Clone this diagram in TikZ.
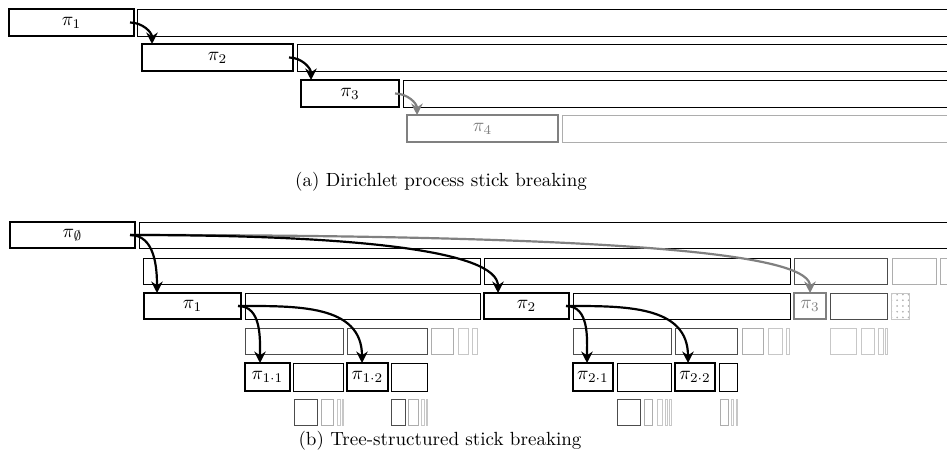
\documentclass[tikz,border=0pt]{standalone}
\usepackage{amssymb}
\usetikzlibrary{arrows.meta,patterns}
\def\un{0.525pt}
\newcommand{\mystick}[7][]{\node[stk,#1,minimum width={(#5-#3)*\un},minimum height={(#6-#4)*\un}] (#2) at ({(#3+#5)/2},{(#4+#6)/2}) {#7};}
\tikzset{
  stk/.style={draw,line width=0.45pt,inner sep=0pt,outer sep=0pt},
  pibox/.style={line width=1.1pt},
  faded/.style={draw=black!50,text=black!50},
  mid/.style={draw=black!70},
  light/.style={draw=black!32},
  lighter/.style={draw=black!22},
  arr/.style={line width=1.15pt,-{Stealth[length=6pt,width=6pt]}},
  garr/.style={arr,draw=black!50,color=black!50},
  captext/.style={inner sep=0pt,font=\normalsize},
}
\begin{document}
\begin{tikzpicture}[x=\un,y=-\un]
\clip (0,0) rectangle (947,466);
% ---------- (a) ----------
\mystick[pibox]{p1}{9}{9}{134}{36}{$\pi_1$}
\mystick{a1}{137}{9}{980}{36}{}
\mystick[pibox]{p2}{142}{44}{293}{71}{$\pi_2$}
\mystick{a2}{297}{44}{980}{71}{}
\mystick[pibox]{p3}{301}{80}{399}{107}{$\pi_3$}
\mystick{a3}{403}{80}{980}{107}{}
\mystick[pibox,faded]{p4}{407}{115}{558}{142}{$\pi_4$}
\mystick[light]{a4}{562}{115}{980}{142}{}
\node[captext] (capa) at (441,182) {(a) Dirichlet process stick breaking};
% ---------- (b) ----------
\mystick[pibox]{pe}{10}{222}{135}{248}{$\pi_{\emptyset}$}
\mystick{b0}{139}{222}{980}{248}{}
% row 2
\mystick{b2a}{143}{258}{480}{284}{}
\mystick{b2b}{484}{258}{790}{284}{}
\mystick[mid]{b2c}{794}{258}{887}{284}{}
\mystick[light]{b2d}{892}{258}{936}{284}{}
\mystick[light]{b2e}{940}{258}{980}{284}{}
% row 3
\mystick[pibox]{q1}{144}{293}{241}{319}{$\pi_1$}
\mystick{q1r}{245}{293}{480}{319}{}
\mystick[pibox]{q2}{484}{293}{569}{319}{$\pi_2$}
\mystick{q2r}{573}{293}{790}{319}{}
\mystick[pibox,faded]{q3}{794}{293}{826}{319}{$\pi_3$}
\mystick[mid]{q3r}{830}{293}{887}{319}{}
\mystick[lighter,pattern=dots,pattern color=black!30]{q3d}{891}{293}{909}{319}{}
% row 4
\mystick[mid]{c1}{245}{328}{343}{354}{}
\mystick[mid]{c2}{347}{328}{427}{354}{}
\mystick[light]{c3}{431}{328}{453}{354}{}
\mystick[lighter]{c4}{458}{328}{468}{354}{}
\mystick[lighter]{c5}{472}{328}{477}{354}{}
\mystick[mid]{d1}{573}{328}{671}{354}{}
\mystick[mid]{d2}{675}{328}{737}{354}{}
\mystick[light]{d3}{742}{328}{763}{354}{}
\mystick[lighter]{d4}{768}{328}{782}{354}{}
\mystick[lighter]{d5}{786}{328}{789}{354}{}
\mystick[lighter]{e1}{830}{328}{856}{354}{}
\mystick[lighter]{e2}{861}{328}{874}{354}{}
\mystick[lighter]{e3}{878}{328}{883}{354}{}
\mystick[lighter]{e4}{885}{328}{887}{354}{}
% row 5
\mystick[pibox]{r11}{245}{363}{290}{391}{$\pi_{1\cdot 1}$}
\mystick{r11r}{293}{363}{343}{391}{}
\mystick[pibox]{r12}{347}{363}{388}{391}{$\pi_{1\cdot 2}$}
\mystick{r12r}{391}{363}{427}{391}{}
\mystick[pibox]{r21}{573}{363}{613}{391}{$\pi_{2\cdot 1}$}
\mystick{r21r}{617}{363}{671}{391}{}
\mystick[pibox]{r22}{675}{363}{715}{391}{$\pi_{2\cdot 2}$}
\mystick{r22r}{719}{363}{737}{391}{}
% row 6
\mystick[mid]{f1}{294}{399}{317}{425}{}
\mystick[light]{f2}{321}{399}{333}{425}{}
\mystick[lighter]{f3}{337}{399}{340}{425}{}
\mystick[lighter]{f4}{342}{399}{343}{425}{}
\mystick[mid]{g1}{391}{399}{405}{425}{}
\mystick[light]{g2}{408}{399}{418}{425}{}
\mystick[lighter]{g3}{421}{399}{424}{425}{}
\mystick[lighter]{g4}{426}{399}{427}{425}{}
\mystick[mid]{h1}{617}{399}{640}{425}{}
\mystick[light]{h2}{644}{399}{652}{425}{}
\mystick[lighter]{h3}{657}{399}{662}{425}{}
\mystick[lighter]{h4}{665}{399}{667}{425}{}
\mystick[lighter]{h5}{669}{399}{671}{425}{}
\mystick[light]{i1}{720}{399}{728}{425}{}
\mystick[lighter]{i2}{731}{399}{733}{425}{}
\mystick[lighter]{i3}{736}{399}{737}{425}{}
\node[captext] (capb) at (440,441) {(b) Tree-structured stick breaking};
% ---------- arrows ----------
\draw[arr] ([xshift={-4*\un}]p1.east) to[out=0,in=90] ([xshift={10*\un}]p2.north west);
\draw[arr] ([xshift={-4*\un}]p2.east) to[out=0,in=90] ([xshift={10*\un}]p3.north west);
\draw[garr] ([xshift={-4*\un}]p3.east) to[out=0,in=90] ([xshift={10*\un}]p4.north west);
\draw[garr] ([xshift={-5*\un}]pe.east) to[out=0,in=90,out distance={540*\un},in distance={35*\un}] (q3.north);
\draw[arr] ([xshift={-5*\un}]pe.east) to[out=0,in=90,out distance={220*\un},in distance={43*\un}] ([xshift={14*\un}]q2.north west);
\draw[arr] ([xshift={-5*\un}]pe.east) to[out=0,in=90] ([xshift={13*\un}]q1.north west);
\draw[arr] ([xshift={-3*\un}]q1.east) to[out=0,in=90] ([xshift={15*\un}]r11.north west);
\draw[arr] ([xshift={-3*\un}]q1.east) to[out=0,in=90,looseness=1.1] ([xshift={15*\un}]r12.north west);
\draw[arr] ([xshift={-3*\un}]q2.east) to[out=0,in=90] ([xshift={14*\un}]r21.north west);
\draw[arr] ([xshift={-3*\un}]q2.east) to[out=0,in=90,looseness=1.1] ([xshift={13*\un}]r22.north west);
\end{tikzpicture}
\end{document}
